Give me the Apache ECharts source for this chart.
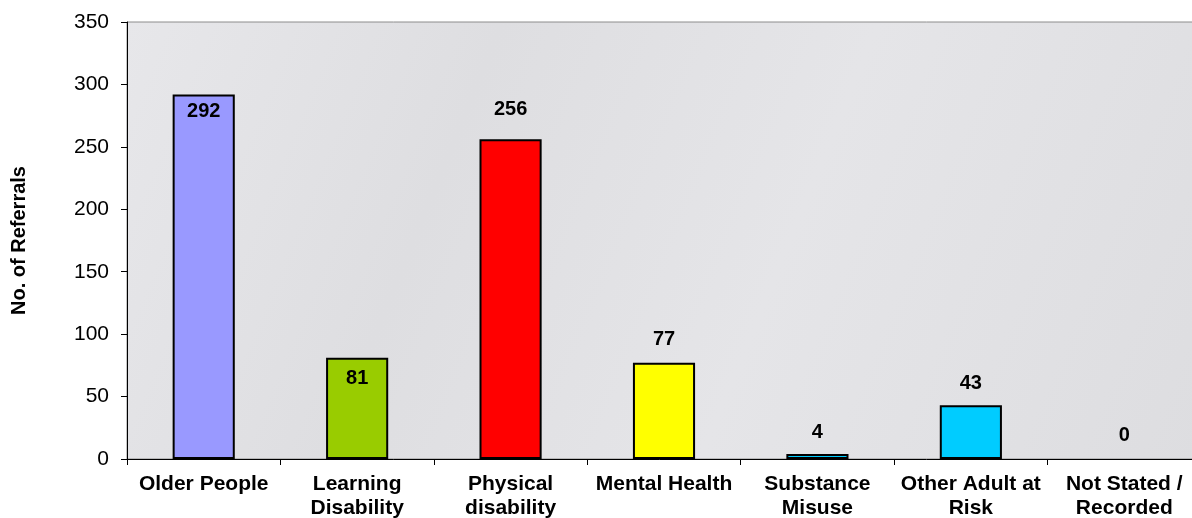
<!DOCTYPE html>
<html><head><meta charset="utf-8">
<script src="https://cdn.jsdelivr.net/npm/echarts@6/dist/echarts.min.js"></script>
<style>html,body{margin:0;padding:0;background:#fff}#c{width:1192px;height:518px}</style>
</head><body><div id="c"></div>
<script>
const categories = ['Older People', 'Learning\nDisability', 'Physical\ndisability', 'Mental Health', 'Substance\nMisuse', 'Other Adult at\nRisk', 'Not Stated /\nRecorded'];
const referrals = [292, 81, 256, 77, 4, 43, 0];
const barColors = ['#9999FF', '#99CC00', '#FF0000', '#FFFF00', '#00CCFF', '#00CCFF', '#00CCFF'];
const labelPositions = ['insideTop', 'insideTop', 'top', 'top', 'top', 'top', 'top'];
const labelDistances = [7, 11, 20, 13, 12, 12, 14];
const yTicks = [0, 50, 100, 150, 200, 250, 300, 350];

const FONT = 'Liberation Sans, Arial, sans-serif';
const chart = echarts.init(document.getElementById('c'));
chart.setOption({
  animation: false,
  backgroundColor: '#ffffff',
  grid: {
    left: 127, width: 1074, top: 22, height: 437, show: true,
    containLabel: false, outerBoundsMode: 'none',
    backgroundColor: new echarts.graphic.LinearGradient(0, 0, 1, 1, [
      {offset: 0, color: '#e7e7ea'}, {offset: 0.3, color: '#dedee1'},
      {offset: 0.6, color: '#e5e5e8'}, {offset: 1, color: '#dddde0'}
    ]),
    borderColor: '#8c8c8c', borderWidth: 1
  },
  xAxis: {
    type: 'category', data: categories,
    axisLine: {lineStyle: {color: '#000', width: 1}},
    axisTick: {show: true, alignWithLabel: false, length: 6, lineStyle: {color: '#000'}},
    axisLabel: {color: '#000', fontFamily: FONT, fontWeight: 'bold', fontSize: 21, lineHeight: 24, margin: 13, interval: 0}
  },
  yAxis: {
    type: 'value', min: yTicks[0], max: yTicks[yTicks.length - 1], interval: 50,
    name: 'No. of Referrals', nameLocation: 'middle', nameGap: 98, nameRotate: 90,
    nameTextStyle: {color: '#000', fontFamily: FONT, fontWeight: 'bold', fontSize: 20},
    axisLine: {show: true, lineStyle: {color: '#000', width: 1}},
    axisTick: {show: true, length: 6, lineStyle: {color: '#000'}},
    splitLine: {show: false},
    axisLabel: {color: '#000', fontFamily: FONT, fontSize: 21, margin: 18}
  },
  series: [{
    type: 'bar', barWidth: '40.5%',
    data: referrals.map((v, i) => ({
      value: v,
      itemStyle: {color: barColors[i], borderColor: '#000', borderWidth: v > 0 ? 2 : 0},
      label: {show: true, position: labelPositions[i], distance: labelDistances[i]}
    })),
    label: {color: '#000', fontFamily: FONT, fontWeight: 'bold', fontSize: 20}
  }]
});
</script></body></html>
